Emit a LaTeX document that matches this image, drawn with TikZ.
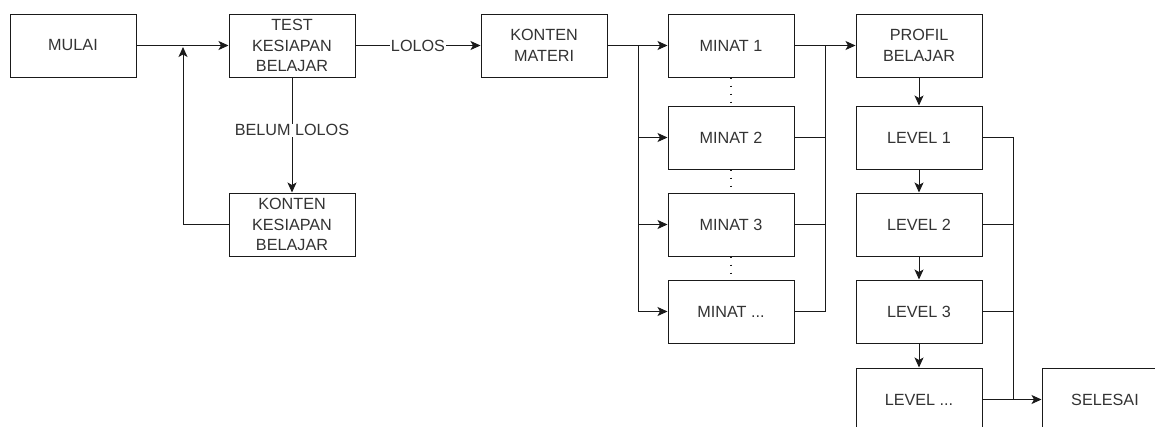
\documentclass[tikz,border=0pt]{standalone}
\usepackage{fontspec}
\setmainfont{Liberation Sans}
\usetikzlibrary{arrows.meta}
\definecolor{ink}{HTML}{1A1A1A}
\definecolor{txt}{HTML}{333333}
\tikzset{
  box/.style={draw=ink, line width=1pt, minimum width=126pt, minimum height=63pt,
    inner sep=0pt, align=center, text=txt, font=\fontsize{16.2}{20.5}\selectfont},
  wire/.style={draw=ink, line width=1pt},
  arr/.style={wire, -{Stealth[length=10pt, width=9pt, inset=2.5pt]}},
  lbl/.style={fill=white, text=txt, inner sep=1pt, font=\fontsize{16.2}{20.5}\selectfont},
  dots/.style={draw=ink, line width=1.6pt, dash pattern=on 1.6pt off 6.4pt}
}
\begin{document}
\begin{tikzpicture}[x=1pt, y=-1pt]
\useasboundingbox (0,0) rectangle (1155,426);
\clip (0,0) rectangle (1155,426);
\fill[white] (0,0) rectangle (1155,426);

% main column of boxes
\node[box] (mulai) at (73,45.5) {MULAI};
\node[box] (test)  at (292,45.5) {TEST\\KESIAPAN\\BELAJAR};
\node[box] (kk)    at (292,224.5) {KONTEN\\KESIAPAN\\BELAJAR};
\node[box] (km)    at (544,45.5) {KONTEN\\MATERI};

% interest branches
\node[box] (m1) at (731,45.5)  {MINAT 1};
\node[box] (m2) at (731,137.5) {MINAT 2};
\node[box] (m3) at (731,224.5) {MINAT 3};
\node[box] (m4) at (731,311.5) {MINAT ...};

% learning profile and levels
\node[box] (pb) at (919,45.5)  {PROFIL\\BELAJAR};
\node[box] (l1) at (919,137.5) {LEVEL 1};
\node[box] (l2) at (919,224.5) {LEVEL 2};
\node[box] (l3) at (919,311.5) {LEVEL 3};
\node[box] (l4) at (919,399.5) {LEVEL ...};
\node[box] (sel) at (1105,399.5) {SELESAI};

% readiness loop
\coordinate (ret) at (183,47);
\draw[arr] (mulai) -- (test);
\draw[arr] (test) -- node[lbl, pos=0.46] {BELUM LOLOS} (kk);
\draw[arr] (kk.west) -| (ret);
\draw[arr] (test) -- node[lbl] {LOLOS} (km);

% split into interests
\coordinate (split) at (638,45.5);
\draw[wire] (km) -- (split);
\draw[arr] (split) -- (m1);
\draw[arr] (split) |- (m2);
\draw[arr] (split) |- (m3);
\draw[arr] (split) |- (m4);

\draw[dots] (m1.south) -- (m2.north);
\draw[dots] (m2.south) -- (m3.north);
\draw[dots] (m3.south) -- (m4.north);

% join into profile
\coordinate (join) at (825,45.5);
\draw[arr] (m1) -- (pb);
\draw[wire] (m2) -| (join);
\draw[wire] (m3) -| (join);
\draw[wire] (m4) -| (join);

% level chain
\draw[arr] (pb) -- (l1);
\draw[arr] (l1) -- (l2);
\draw[arr] (l2) -- (l3);
\draw[arr] (l3) -- (l4);

% every level may finish
\coordinate (fin) at (1013,399.5);
\draw[arr] (l4) -- (sel);
\draw[wire] (l1) -| (fin);
\draw[wire] (l2) -| (fin);
\draw[wire] (l3) -| (fin);
\end{tikzpicture}
\end{document}
